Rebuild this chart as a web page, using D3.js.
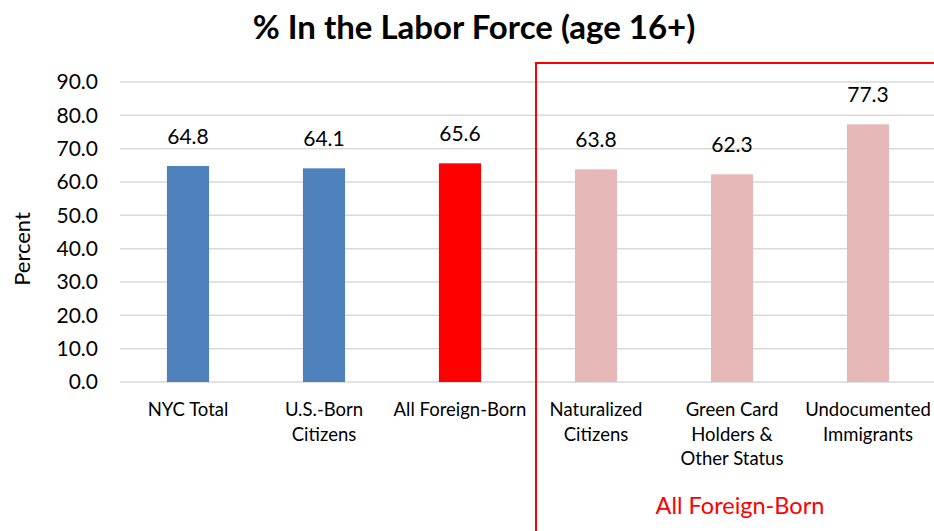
<!DOCTYPE html>
<meta charset="utf-8">
<script src="https://d3js.org/d3.v7.min.js"></script>
<style>
    body { margin: 0; background: #fff; }
    text { font-family: Lato, "Open Sans", sans-serif; }
</style>
<div id="my_dataviz"></div>
<script>
    // chart data
    var categories = ["NYC Total", "U.S.-Born Citizens", "All Foreign-Born", "Naturalized Citizens",
        "Green Card Holders & Other Status", "Undocumented Immigrants"];
    var labelLines = [["NYC Total"], ["U.S.-Born", "Citizens"], ["All Foreign-Born"],
        ["Naturalized", "Citizens"], ["Green Card", "Holders &", "Other Status"], ["Undocumented", "Immigrants"]];
    var values = [64.8, 64.1, 65.6, 63.8, 62.3, 77.3];
    var barColors = ["#4F81BD", "#4F81BD", "#FF0000", "#E6B9B8", "#E6B9B8", "#E6B9B8"];
    var yTicks = [0, 10, 20, 30, 40, 50, 60, 70, 80, 90];

    var W = 934, H = 531;
    var margin = { top: 82, right: -2, bottom: 149, left: 120 },
        width = W - margin.left - margin.right,
        height = H - margin.top - margin.bottom;

    var svg = d3.select("#my_dataviz")
        .append("svg")
        .attr("width", W)
        .attr("height", H);

    var g = svg.append("g")
        .attr("transform", "translate(" + margin.left + "," + margin.top + ")");

    var x = d3.scaleBand()
        .domain(categories)
        .range([0, width])
        .paddingInner(0.69)
        .paddingOuter(0.345);

    var y = d3.scaleLinear()
        .domain([0, 90])
        .range([height, 0]);

    // gridlines
    g.selectAll(".grid")
        .data(yTicks)
        .enter()
        .append("line")
        .attr("x1", 0)
        .attr("x2", width)
        .attr("y1", function (d) { return y(d); })
        .attr("y2", function (d) { return y(d); })
        .attr("stroke", "#D9D9D9")
        .attr("stroke-width", 1.5);

    // Y axis labels
    var yAxis = g.append("g")
        .call(d3.axisLeft(y).tickValues(yTicks).tickFormat(d3.format(".1f")).tickSize(0).tickPadding(22));
    yAxis.select(".domain").remove();
    yAxis.selectAll("text")
        .style("font-family", "Lato, 'Open Sans', sans-serif")
        .style("font-size", "21px")
        .attr("fill", "#000");

    // bars
    g.selectAll("myRect")
        .data(values)
        .enter()
        .append("rect")
        .attr("x", function (d, i) { return x(categories[i]); })
        .attr("y", function (d) { return y(d); })
        .attr("width", x.bandwidth())
        .attr("height", function (d) { return height - y(d); })
        .attr("fill", function (d, i) { return barColors[i]; });

    // value labels
    g.selectAll(".vlab")
        .data(values)
        .enter()
        .append("text")
        .attr("x", function (d, i) { return x(categories[i]) + x.bandwidth() / 2; })
        .attr("y", function (d) { return y(d) - 22; })
        .attr("text-anchor", "middle")
        .style("font-size", "21px")
        .text(function (d) { return d.toFixed(1); });

    // category labels
    var xl = g.selectAll(".xlab")
        .data(categories)
        .enter()
        .append("text")
        .attr("text-anchor", "middle")
        .attr("x", function (d) { return x(d) + x.bandwidth() / 2; })
        .attr("y", height + 34)
        .style("font-size", "18.5px");
    xl.each(function (d, i) {
        var t = d3.select(this);
        labelLines[i].forEach(function (line, j) {
            t.append("tspan")
                .attr("x", x(d) + x.bandwidth() / 2)
                .attr("dy", j === 0 ? 0 : 24.5)
                .text(line);
        });
    });

    // Y axis title
    svg.append("text")
        .attr("transform", "translate(30,249)rotate(-90)")
        .attr("text-anchor", "middle")
        .style("font-size", "22px")
        .text("Percent");

    // title
    svg.append("text")
        .attr("x", 474)
        .attr("y", 39)
        .attr("text-anchor", "middle")
        .style("font-size", "33px")
        .style("font-weight", "bold")
        .text("% In the Labor Force (age 16+)");

    // red group box
    svg.append("rect")
        .attr("x", 536)
        .attr("y", 63)
        .attr("width", W)
        .attr("height", H)
        .attr("fill", "none")
        .attr("stroke", "#FF0000")
        .attr("stroke-width", 2);

    svg.append("text")
        .attr("x", 740)
        .attr("y", 514)
        .attr("text-anchor", "middle")
        .attr("fill", "#FF0000")
        .style("font-size", "23.5px")
        .text("All Foreign-Born");
</script>
